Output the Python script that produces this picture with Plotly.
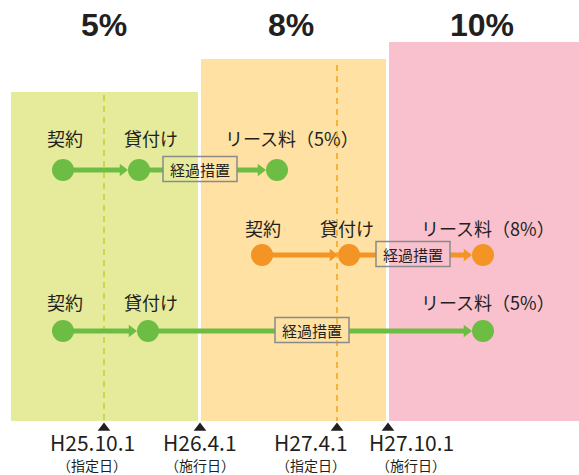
import plotly.graph_objects as go

# --- diagram data ---------------------------------------------------------
rate_labels = ["5%", "8%", "10%"]
rate_x = [104, 291, 482]

band_x0 = [11, 201, 389]
band_x1 = [198, 386, 579]
band_top = [92, 59, 42]
band_bottom = 421
band_colors = ["#e6eb9c", "#fee1a3", "#f8c1cd"]

date_labels = ["H25.10.1", "H26.4.1", "H27.4.1", "H27.10.1"]
date_kinds = ["（指定日）", "（施行日）", "（指定日）", "（施行日）"]
date_x = [104, 200, 337, 388]
date_label_x = [92, 200, 311, 411]

# dashed "designated day" guides
guide_x = [104, 337]
guide_top = [95, 65]
guide_colors = ["#c6da50", "#f8b237"]

row_y = [170, 255, 331]
row_point_x = [[63, 139, 277], [262, 349, 483], [63, 148, 483]]
row_label_x = [[65, 151, 292], [263, 347, 488], [65, 151, 488]]
row_label_y = [138, 228, 302]
row_labels = [
    ["契約", "貸付け", "リース料（5%）"],
    ["契約", "貸付け", "リース料（8%）"],
    ["契約", "貸付け", "リース料（5%）"],
]
row_colors = ["#6dbd45", "#f39424", "#6dbd45"]
box_center_x = [200, 413, 312]
box_text = "経過措置"

TEXT = "#231f20"
FONT = "Noto Sans CJK JP"
R = 11        # circle radius (px)
BOX_W, BOX_H = 74, 25

fig = go.Figure()
shapes = []
annotations = []

# background bands
for x0, x1, top, col in zip(band_x0, band_x1, band_top, band_colors):
    shapes.append(dict(type="rect", x0=x0, x1=x1, y0=top, y1=band_bottom,
                       fillcolor=col, line=dict(width=0), layer="below"))

# dashed guides
for gx, gt, gc in zip(guide_x, guide_top, guide_colors):
    shapes.append(dict(type="line", x0=gx, x1=gx, y0=gt, y1=band_bottom,
                       line=dict(color=gc, width=2, dash="6px,5px"), layer="below"))

# rate headings
for lbl, x in zip(rate_labels, rate_x):
    annotations.append(dict(x=x, y=25, text=f"<b>{lbl}</b>", showarrow=False,
                            font=dict(size=32, color=TEXT, family="Liberation Sans")))

# rows: lines, arrowheads, circles, labels, boxes
for i in range(3):
    y = row_y[i]
    p = row_point_x[i]
    col = row_colors[i]
    bx = box_center_x[i]
    tip1 = p[1] - R
    tip2 = p[2] - R
    segs = [(p[0], tip1 - 4), (p[1], bx - BOX_W / 2), (bx + BOX_W / 2, tip2 - 4)]
    for a, b in segs:
        fig.add_trace(go.Scatter(x=[a, b], y=[y, y], mode="lines",
                                 line=dict(color=col, width=5),
                                 hoverinfo="skip", showlegend=False))
    # arrowheads
    fig.add_trace(go.Scatter(x=[tip1 - 5.5, tip2 - 5.5], y=[y, y], mode="markers",
                             marker=dict(symbol="triangle-right", size=11, color=col),
                             hoverinfo="skip", showlegend=False))
    # circles
    fig.add_trace(go.Scatter(x=p, y=[y] * 3, mode="markers",
                             marker=dict(size=2 * R, color=col),
                             hoverinfo="skip", showlegend=False))
    # box
    shapes.append(dict(type="rect", x0=bx - BOX_W / 2, x1=bx + BOX_W / 2,
                       y0=y - BOX_H / 2 - 1, y1=y + BOX_H / 2 - 1,
                       line=dict(color="#8a8a8a", width=1.5), fillcolor="rgba(0,0,0,0)"))
    annotations.append(dict(x=bx, y=y - 1, text=box_text, showarrow=False,
                            font=dict(size=15, color=TEXT, family=FONT)))
    for lx, lt in zip(row_label_x[i], row_labels[i]):
        annotations.append(dict(x=lx, y=row_label_y[i], text=lt, showarrow=False,
                                font=dict(size=18, color=TEXT, family=FONT)))

# timeline markers and labels
fig.add_trace(go.Scatter(x=date_x, y=[428] * 4, mode="markers",
                         marker=dict(symbol="triangle-up", size=11, color=TEXT),
                         hoverinfo="skip", showlegend=False))
for x, d, k in zip(date_label_x, date_labels, date_kinds):
    annotations.append(dict(x=x, y=442, text=d, showarrow=False,
                            font=dict(size=21, color=TEXT, family=FONT)))
    annotations.append(dict(x=x, y=465, text=k, showarrow=False,
                            font=dict(size=14, color=TEXT, family=FONT)))

for a in annotations:
    a.update(xref="x", yref="y")

fig.update_layout(
    width=579, height=475,
    margin=dict(l=0, r=0, t=0, b=0),
    paper_bgcolor="white", plot_bgcolor="white",
    xaxis=dict(range=[0, 579], visible=False, fixedrange=True),
    yaxis=dict(range=[475, 0], visible=False, fixedrange=True),
    shapes=shapes, annotations=annotations,
    showlegend=False,
)

fig.write_html("out.html", config={"displayModeBar": False},
               post_script="document.body.style.margin='0';")
